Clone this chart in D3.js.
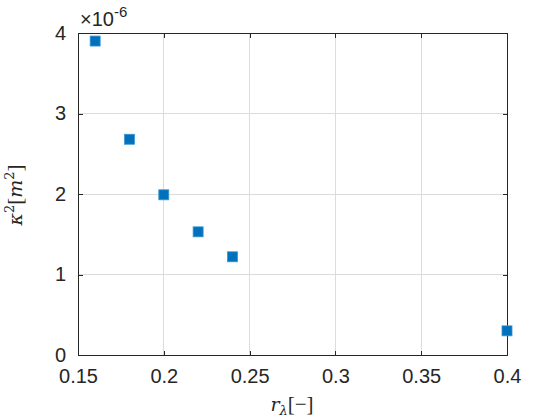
<!DOCTYPE html>
<html>
<head>
<meta charset="utf-8">
<script src="https://cdn.jsdelivr.net/npm/d3@7"></script>
<style>
  html, body { margin: 0; padding: 0; background: #fff; }
  svg { display: block; }
</style>
</head>
<body>
<svg id="chart" width="560" height="420"></svg>
<script>
const rValues = [0.16, 0.18, 0.20, 0.22, 0.24, 0.40];
const kappaValues = [3.90e-6, 2.68e-6, 1.99e-6, 1.53e-6, 1.22e-6, 0.30e-6];
const xTicks = [0.15, 0.2, 0.25, 0.3, 0.35, 0.4];
const xTickLabels = ["0.15", "0.2", "0.25", "0.3", "0.35", "0.4"];
const yTicks = [0, 1e-6, 2e-6, 3e-6, 4e-6];
const yTickLabels = ["0", "1", "2", "3", "4"];

const svg = d3.select("#chart");
const m = { left: 78, right: 507, top: 33, bottom: 355 };
const x = d3.scaleLinear().domain([0.15, 0.4]).range([m.left, m.right]);
const y = d3.scaleLinear().domain([0, 4e-6]).range([m.bottom, m.top]);

const axisColor = "#262626";
const font = "'Liberation Sans', Arial, Helvetica, sans-serif";
const tickLen = 4.5;
const fs = 20;

// grid
const grid = svg.append("g");
grid.selectAll(".gx").data(xTicks).enter().append("line")
  .attr("x1", d => x(d)).attr("x2", d => x(d))
  .attr("y1", m.top).attr("y2", m.bottom)
  .attr("stroke", "#dcdcdc").attr("stroke-width", 1).attr("shape-rendering", "crispEdges");
grid.selectAll(".gy").data(yTicks).enter().append("line")
  .attr("x1", m.left).attr("x2", m.right)
  .attr("y1", d => y(d)).attr("y2", d => y(d))
  .attr("stroke", "#dcdcdc").attr("stroke-width", 1).attr("shape-rendering", "crispEdges");

// axes (ticks inward)
const xAxisB = d3.axisBottom(x).tickValues(xTicks).tickSize(-tickLen).tickFormat((d, i) => xTickLabels[i]).tickPadding(14);
const xAxisT = d3.axisTop(x).tickValues(xTicks).tickSize(-tickLen).tickFormat("");
const yAxisL = d3.axisLeft(y).tickValues(yTicks).tickSize(-tickLen).tickFormat((d, i) => yTickLabels[i]).tickPadding(12);
const yAxisR = d3.axisRight(y).tickValues(yTicks).tickSize(-tickLen).tickFormat("");

function style(g) {
  g.select(".domain").remove();
  g.selectAll(".tick line").attr("stroke", axisColor).attr("shape-rendering", "crispEdges");
  g.selectAll(".tick text").attr("fill", axisColor).attr("font-family", font).attr("font-size", fs);
}
svg.append("g").attr("transform", `translate(0,${m.bottom})`).call(xAxisB).call(style);
svg.append("g").attr("transform", `translate(0,${m.top})`).call(xAxisT).call(style);
svg.append("g").attr("transform", `translate(${m.left},0)`).call(yAxisL).call(style);
svg.append("g").attr("transform", `translate(${m.right},0)`).call(yAxisR).call(style);

// box border
svg.append("rect").attr("x", m.left + 0.5).attr("y", m.top + 0.5)
  .attr("width", m.right - m.left).attr("height", m.bottom - m.top)
  .attr("fill", "none").attr("stroke", axisColor).attr("stroke-width", 1);

// exponent
const ex = svg.append("text").attr("x", 80).attr("y", 26)
  .attr("font-family", font).attr("font-size", fs).attr("fill", axisColor);
ex.append("tspan").text("×10");
ex.append("tspan").attr("dy", -9).attr("font-size", 15).text("-6");

// markers
const ms = 10;
svg.append("g").selectAll("rect").data(rValues).enter().append("rect")
  .attr("x", (d) => x(d) - ms / 2)
  .attr("y", (d, i) => y(kappaValues[i]) - ms / 2)
  .attr("width", ms).attr("height", ms)
  .attr("fill", "#0072BD").attr("stroke", "#3d95cf").attr("stroke-width", 0.8);

// axis labels
const serif = "'DejaVu Serif', 'Liberation Serif', serif";
const xl = svg.append("text").attr("x", 292).attr("y", 411).attr("text-anchor", "middle")
  .attr("font-family", serif).attr("font-size", 19).attr("fill", axisColor);
xl.append("tspan").attr("font-style", "italic").text("r");
xl.append("tspan").attr("font-style", "italic").attr("font-size", 13).attr("dy", 4).text("λ");
xl.append("tspan").attr("dy", -4).attr("font-size", 21).attr("font-family", "'Liberation Serif', serif").text("[−]");

const yl = svg.append("text").attr("transform", "translate(22,195) rotate(-90)").attr("text-anchor", "middle")
  .attr("font-family", serif).attr("font-size", 19).attr("fill", axisColor);
yl.append("tspan").attr("font-style", "italic").text("κ");
yl.append("tspan").attr("font-size", 13).attr("dy", -8).text("2");
yl.append("tspan").attr("dy", 8).attr("font-size", 21).attr("font-family", "'Liberation Serif', serif").text("[");
yl.append("tspan").attr("font-style", "italic").text("m");
yl.append("tspan").attr("font-size", 13).attr("dy", -8).text("2");
yl.append("tspan").attr("dy", 8).attr("font-size", 21).attr("font-family", "'Liberation Serif', serif").text("]");
</script>
</body>
</html>
